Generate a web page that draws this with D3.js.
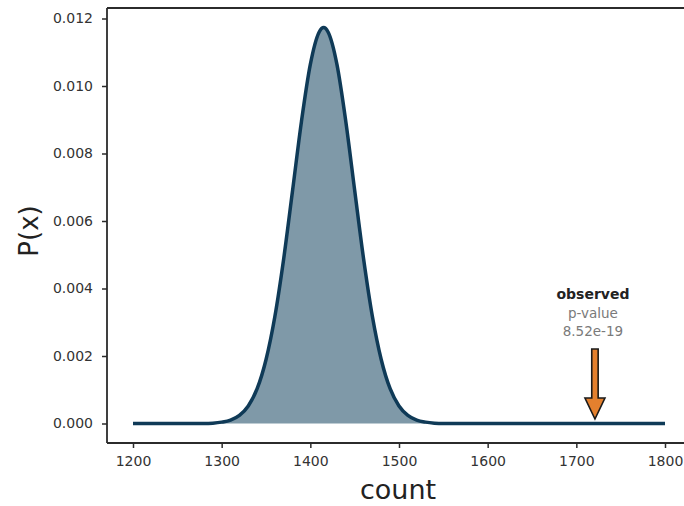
<!DOCTYPE html>
<html>
<head>
<meta charset="utf-8">
<script src="https://cdn.jsdelivr.net/npm/d3@7"></script>
<style>
html,body{margin:0;padding:0;background:#fff;}
svg{display:block;font-family:"DejaVu Sans", sans-serif;}
</style>
</head>
<body>
<svg id="chart" width="684" height="506"></svg>
<script>
// Data
const countValues = [1200, 1280, 1290, 1300, 1310, 1320, 1330, 1340, 1350, 1360, 1370, 1380, 1390, 1400, 1410, 1415, 1420, 1430, 1440, 1450, 1460, 1470, 1480, 1490, 1500, 1510, 1520, 1530, 1540, 1550, 1800];
const densityValues = [0, 0, 0.00001, 0.00004, 0.00010, 0.00024, 0.00052, 0.00103, 0.00189, 0.00317, 0.00489, 0.00691, 0.00895, 0.01064, 0.01160, 0.01173, 0.01160, 0.01064, 0.00895, 0.00691, 0.00489, 0.00317, 0.00189, 0.00103, 0.00052, 0.00024, 0.00010, 0.00004, 0.00001, 0, 0];
const xTicks = [1200, 1300, 1400, 1500, 1600, 1700, 1800];
const yTicks = [0, 0.002, 0.004, 0.006, 0.008, 0.010, 0.012];
const observedCount = 1721;
const annotationLines = ["observed", "p-value", "8.52e-19"];

(function () {
const svg = d3.select("#chart");
const x = d3.scaleLinear().domain([1200, 1800]).range([133, 665]);
const y = d3.scaleLinear().domain([0, 0.012]).range([423.5, 18.5]);

const pLeft = 107, pTop = 8, pBottom = 443, pRight = 684;
const axisColor = "#2b2b2b";
const font = "'DejaVu Sans', sans-serif";

// frame: top line
svg.append("line").attr("x1", pLeft).attr("x2", pRight).attr("y1", pTop).attr("y2", pTop)
  .attr("stroke", axisColor).attr("stroke-width", 1.8);

const pts = countValues.map((c, i) => ({c, d: densityValues[i]}));

const area = d3.area().x(d => x(d.c)).y0(y(0)).y1(d => y(d.d)).curve(d3.curveMonotoneX);
const line = d3.line().x(d => x(d.c)).y(d => y(d.d)).curve(d3.curveMonotoneX);

svg.append("path").datum(pts).attr("d", area).attr("fill", "#7f99a8");
svg.append("path").datum(pts).attr("d", line).attr("fill", "none")
  .attr("stroke", "#0f3a57").attr("stroke-width", 3.5).attr("stroke-linejoin", "round");

// y axis
const yAxis = svg.append("g").attr("transform", `translate(${pLeft},0)`)
  .call(d3.axisLeft(y).tickValues(yTicks).tickFormat(d3.format(".3f")).tickSize(5).tickPadding(9));
yAxis.select(".domain").attr("d", `M0,${pTop}V${pBottom}`);

// x axis
const xAxis = svg.append("g").attr("transform", `translate(0,${pBottom})`)
  .call(d3.axisBottom(x).tickValues(xTicks).tickFormat(d3.format("d")).tickSize(5).tickPadding(8));
xAxis.select(".domain").attr("d", `M${pLeft},0H${pRight}`);

[yAxis, xAxis].forEach(g => {
  g.select(".domain").attr("stroke", axisColor).attr("stroke-width", 1.8);
  g.selectAll(".tick line").attr("stroke", axisColor).attr("stroke-width", 1.5);
  g.selectAll(".tick text").attr("fill", "#333").attr("font-size", 14)
    .attr("font-family", font);
});

// axis titles
svg.append("text").attr("x", 398).attr("y", 499).attr("text-anchor", "middle")
  .attr("font-family", font).attr("font-size", 27).attr("fill", "#222").text("count");
svg.append("text").attr("transform", "translate(38,231) rotate(-90)").attr("text-anchor", "middle")
  .attr("font-family", font).attr("font-size", 26).attr("fill", "#222").text("P(x)");

// arrow
const ax = x(observedCount);
const tipY = 419, headTop = 398, shaftTop = 349, shaftW = 3.2, headW = 10;
const arrowPath = `M${ax - shaftW},${shaftTop}H${ax + shaftW}V${headTop}H${ax + headW}L${ax},${tipY}L${ax - headW},${headTop}H${ax - shaftW}Z`;
svg.append("path").attr("d", arrowPath).attr("fill", "#e3802e").attr("stroke", "#1a1a1a")
  .attr("stroke-width", 1.6).attr("stroke-linejoin", "miter");

// annotation text
const ann = svg.append("g").attr("font-family", font).attr("text-anchor", "middle");
ann.append("text").attr("x", ax - 2).attr("y", 299).attr("font-size", 14).attr("font-weight", "bold").attr("fill", "#222").text(annotationLines[0]);
ann.append("text").attr("x", ax - 2).attr("y", 318).attr("font-size", 13.5).attr("fill", "#7a7a7a").text(annotationLines[1]);
ann.append("text").attr("x", ax - 2).attr("y", 336).attr("font-size", 13.5).attr("fill", "#7a7a7a").text(annotationLines[2]);
})();
</script>
</body>
</html>
